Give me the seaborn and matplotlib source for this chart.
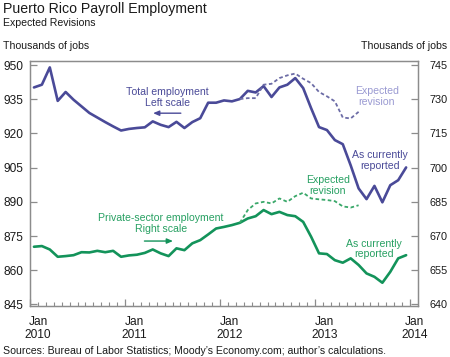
import matplotlib
matplotlib.use("Agg")
import matplotlib.pyplot as plt
import numpy as np
import pandas as pd
import seaborn as sns

# ---------------- data (month 0 = Jan 2010) ----------------
total_employment = [940.2, 941.4, 949.0, 934.3, 938.2, 934.8, 931.9, 929.0, 927.0, 925.0,
                    923.1, 921.3, 922.0, 922.4, 922.7, 925.3, 923.8, 922.8, 925.1, 922.4,
                    925.0, 926.7, 933.5, 933.5, 934.5, 934.1, 935.1, 938.7, 938.0, 940.8,
                    936.0, 940.2, 941.4, 944.3, 939.9, 931.1, 922.8, 921.5, 917.1, 915.3,
                    906.0, 895.9, 891.2, 897.0, 889.8, 897.3, 899.5, 905.1]
total_revision = [935.1, 935.5, 935.5, 941.4, 941.8, 944.3, 945.5, 946.3, 944.0, 942.1,
                  938.2, 936.3, 934.1, 927.0, 926.6, 929.5]
private_employment = [665.3, 665.6, 664.1, 660.9, 661.2, 661.6, 662.9, 662.8, 663.5, 662.9,
                      663.5, 660.9, 661.5, 661.8, 662.6, 664.1, 662.4, 661.2, 664.6, 663.8,
                      666.8, 668.2, 670.7, 673.3, 674.0, 674.8, 675.8, 677.7, 678.7, 681.4,
                      679.6, 680.6, 679.2, 678.7, 676.2, 669.7, 662.4, 662.1, 659.4, 658.3,
                      660.2, 657.3, 653.6, 652.1, 649.5, 654.3, 660.2, 661.6]
private_revision = [675.8, 681.4, 684.3, 685.0, 684.3, 686.5, 685.0, 687.5, 689.0, 686.5,
                    686.1, 685.8, 685.3, 683.0, 682.5, 683.5]
revision_start = 26
year_labels = ["Jan\n2010", "Jan\n2011", "Jan\n2012", "Jan\n2013", "Jan\n2014"]
left_ticks = [845, 860, 875, 890, 905, 920, 935, 950]
right_ticks = [640, 655, 670, 685, 700, 715, 730, 745]

month = np.arange(len(total_employment)) + 0.5
rev_month = np.arange(revision_start, revision_start + len(total_revision)) + 0.5

df_total = pd.DataFrame({"month": month, "value": total_employment})
df_total_rev = pd.DataFrame({"month": rev_month, "value": total_revision})
df_priv = pd.DataFrame({"month": month, "value": private_employment})
df_priv_rev = pd.DataFrame({"month": rev_month, "value": private_revision})

# ---------------- style ----------------
sns.set_style("white")
plt.rcParams["font.family"] = ["Liberation Sans", "DejaVu Sans"]

PURPLE = "#4a4a98"
PURPLE_DASH = "#6c6ca6"
PURPLE_LIGHT = "#9a9ad2"
GREEN = "#13935a"
GREEN_DASH = "#3aa86a"
GREEN_TEXT = "#27a062"
SPINE = "#8c8c8c"
TXT = "#1a1a1a"

W, H = 450, 357
fig = plt.figure(figsize=(W / 100, H / 100), dpi=100)
ax = fig.add_axes([30 / W, 1 - 306 / H, 388 / W, 245 / H])
ax2 = ax.twinx()

sns.lineplot(data=df_total, x="month", y="value", ax=ax, color=PURPLE, lw=1.9)
sns.lineplot(data=df_total_rev, x="month", y="value", ax=ax, color=PURPLE_DASH, lw=1.3,
             linestyle=(0, (2, 1.4)))
sns.lineplot(data=df_priv, x="month", y="value", ax=ax2, color=GREEN, lw=1.9)
sns.lineplot(data=df_priv_rev, x="month", y="value", ax=ax2, color=GREEN_DASH, lw=1.3,
             linestyle=(0, (2, 1.4)))

ax.set_xlim(0, 49)
ax.set_ylim(844.3, 951.8)
ax2.set_ylim(639.3, 746.8)
ax.set_yticks(left_ticks)
ax2.set_yticks(right_ticks)
for a in (ax, ax2):
    a.set_xlabel("")
    a.set_ylabel("")
    for s in a.spines.values():
        s.set_color(SPINE)
        s.set_linewidth(0.9)
        s.set_visible(True)
ax2.patch.set_visible(False)

ax.tick_params(axis="y", direction="in", length=5, width=0.9, color=SPINE, pad=5,
               labelsize=8.6, labelcolor=TXT, left=True)
ax2.tick_params(axis="y", direction="in", length=5, width=0.9, color=SPINE, pad=8,
                labelsize=7.8, labelcolor=TXT, right=True)

ax.set_xticks(range(0, 49, 12))
ax.set_xticklabels([])
ax.set_xticks([m for m in range(1, 49) if m % 12], minor=True)
ax.tick_params(axis="x", which="major", direction="in", length=5, width=0.9, color=SPINE,
               bottom=True)
ax.tick_params(axis="x", which="minor", direction="in", length=3, width=0.8, color=SPINE,
               bottom=True)

label_pos = [1.0, 13.2, 25.2, 37.2, 48.6]
trans = matplotlib.transforms.blended_transform_factory(ax.transData, ax.transAxes)
for p, lab in zip(label_pos, year_labels):
    ax.text(p, -0.04, lab, transform=trans, ha="center", va="top", fontsize=8.6,
            color=TXT, linespacing=1.15)

# ---------------- annotations ----------------
fs = 7.6
ax.text(17.4, 935.7, "Total employment\nLeft scale", ha="center", va="center",
        fontsize=fs, color=PURPLE, linespacing=1.15)
ax.annotate("", xy=(15.2, 928.9), xytext=(19.4, 928.9),
            arrowprops=dict(arrowstyle="-|>,head_length=0.35,head_width=0.15",
                            color=PURPLE, lw=1.0))
ax.text(16.5, 880.5, "Private-sector employment\nRight scale", ha="center", va="center",
        fontsize=fs, color=GREEN_TEXT, linespacing=1.15)
ax.annotate("", xy=(18.4, 872.8), xytext=(14.1, 872.8),
            arrowprops=dict(arrowstyle="-|>,head_length=0.35,head_width=0.15",
                            color=GREEN, lw=1.0))
ax.text(43.8, 936.3, "Expected\nrevision", ha="center", va="center",
        fontsize=fs, color=PURPLE_LIGHT, linespacing=1.1)
ax.text(44.2, 908.3, "As currently\nreported", ha="center", va="center",
        fontsize=fs, color=PURPLE, linespacing=1.1)
ax.text(37.6, 897.2, "Expected\nrevision", ha="center", va="center",
        fontsize=fs, color=GREEN_TEXT, linespacing=1.1)
ax.text(43.4, 869.3, "As currently\nreported", ha="center", va="center",
        fontsize=fs, color=GREEN_TEXT, linespacing=1.1)

# ---------------- titles & notes ----------------
fig.text(3 / W, 1 - 12.8 / H, "Puerto Rico Payroll Employment", ha="left", va="baseline",
         fontsize=10.2, color=TXT)
fig.text(3 / W, 1 - 26 / H, "Expected Revisions", ha="left", va="baseline",
         fontsize=7.6, color=TXT)
fig.text(3 / W, 1 - 49 / H, "Thousands of jobs", ha="left", va="baseline",
         fontsize=7.6, color=TXT)
fig.text(447 / W, 1 - 49 / H, "Thousands of jobs", ha="right", va="baseline",
         fontsize=7.6, color=TXT)
fig.text(3 / W, 1 - 354 / H,
         "Sources: Bureau of Labor Statistics; Moody\u2019s Economy.com; author\u2019s calculations.",
         ha="left", va="baseline", fontsize=7.6, color=TXT)

fig.savefig("out.png", dpi=100)
